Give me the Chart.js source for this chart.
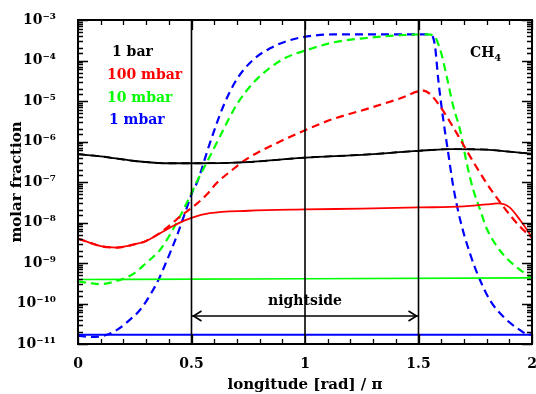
<!DOCTYPE html>
<html>
<head>
<meta charset="utf-8">
<script src="https://cdn.jsdelivr.net/npm/chart.js@4.4.1/dist/chart.umd.min.js"></script>
<style>
  html, body { margin: 0; padding: 0; background: #ffffff; }
  #wrap { width: 536px; height: 394px; }
</style>
</head>
<body>
<div id="wrap"><canvas id="c" width="536" height="394"></canvas></div>
<script>
// ---- data ----
const seriesNames = ['1 bar', '100 mbar', '10 mbar', '1 mbar'];
const speciesLabel = 'CH';
const speciesIndex = '4';
const regionLabel = 'nightside';

const xTickLabels = ['0', '0.5', '1', '1.5', '2'];

const blackX = [0, 0.1, 0.25, 0.4, 0.5, 0.75, 1.0, 1.25, 1.5, 1.65, 1.8, 1.9, 2.0];
const blackY = [4.9e-7, 4.3e-7, 3.3e-7, 2.9e-7, 2.9e-7, 3.1e-7, 4.0e-7, 4.7e-7, 5.9e-7, 6.5e-7, 6.3e-7, 5.6e-7, 5.0e-7];

const redSolidX = [0, 0.05, 0.1, 0.17, 0.25, 0.3, 0.375, 0.435, 0.5, 0.58, 0.75, 1.0, 1.25, 1.5, 1.7, 1.8, 1.85, 1.9, 1.95, 2.0];
const redSolidY = [4.0e-9, 3.2e-9, 2.6e-9, 2.4e-9, 2.9e-9, 3.5e-9, 6.0e-9, 9.1e-9, 1.3e-8, 1.7e-8, 1.95e-8, 2.1e-8, 2.2e-8, 2.35e-8, 2.5e-8, 2.8e-8, 2.95e-8, 2.4e-8, 1.1e-8, 4.3e-9];

const redDashX = [0, 0.05, 0.1, 0.17, 0.25, 0.3, 0.375, 0.435, 0.46, 0.52, 0.567, 0.61, 0.68, 0.743, 0.875, 1.0, 1.124, 1.27, 1.418, 1.52, 1.55, 1.595, 1.652, 1.727, 1.8, 1.873, 1.947, 2.0];
const redDashY = [4.0e-9, 3.2e-9, 2.6e-9, 2.4e-9, 2.9e-9, 3.5e-9, 6.3e-9, 1.2e-8, 1.55e-8, 2.8e-8, 4.9e-8, 9.3e-8, 2.0e-7, 3.7e-7, 9.1e-7, 1.9e-6, 3.6e-6, 6.3e-6, 1.15e-5, 1.8e-5, 1.5e-5, 7.4e-6, 2.3e-6, 4.3e-7, 9.3e-8, 2.5e-8, 7.9e-9, 4.2e-9];

const greenSolidX = [0, 1, 2];
const greenSolidY = [3.9e-10, 4.1e-10, 4.3e-10];

const greenDashX = [0, 0.05, 0.097, 0.17, 0.244, 0.3, 0.361, 0.405, 0.449, 0.493, 0.523, 0.581, 0.64, 0.699, 0.772, 0.846, 0.919, 1.007, 1.124, 1.27, 1.418, 1.536, 1.565, 1.595, 1.624, 1.653, 1.683, 1.712, 1.741, 1.771, 1.8, 1.845, 1.889, 1.947, 1.99, 2.0];
const greenDashY = [3.5e-10, 3.2e-10, 3.0e-10, 3.6e-10, 5.4e-10, 1.0e-9, 2.1e-9, 5.0e-9, 1.4e-8, 4.4e-8, 1.0e-7, 4.3e-7, 1.95e-6, 8.1e-6, 2.8e-5, 6.6e-5, 1.2e-4, 1.8e-4, 2.8e-4, 3.6e-4, 4.2e-4, 4.4e-4, 4.2e-4, 1.9e-4, 4.1e-5, 7.4e-6, 1.95e-6, 3.0e-7, 6.5e-8, 2.1e-8, 7.2e-9, 2.6e-9, 1.3e-9, 6.8e-10, 4.7e-10, 4.6e-10];

const blueSolidX = [0, 1, 2];
const blueSolidY = [1.7e-11, 1.7e-11, 1.7e-11];

const blueDashX = [0, 0.053, 0.112, 0.17, 0.229, 0.273, 0.317, 0.354, 0.39, 0.435, 0.471, 0.508, 0.523, 0.581, 0.64, 0.699, 0.772, 0.846, 0.919, 0.993, 1.124, 1.536, 1.558, 1.573, 1.587, 1.609, 1.631, 1.653, 1.683, 1.727, 1.771, 1.815, 1.874, 1.933, 1.99, 2.0];
const blueDashY = [1.6e-11, 1.5e-11, 1.6e-11, 2.2e-11, 4.0e-11, 6.9e-11, 1.6e-10, 3.8e-10, 1.1e-9, 4.6e-9, 1.7e-8, 6.5e-8, 9.3e-8, 9.1e-7, 7.4e-6, 3.4e-5, 1.05e-4, 2.0e-4, 3.0e-4, 3.8e-4, 4.4e-4, 4.4e-4, 4.2e-4, 2.2e-4, 3.4e-5, 3.5e-6, 5.2e-7, 7.8e-8, 1.2e-8, 1.7e-9, 3.8e-10, 1.2e-10, 4.7e-11, 2.5e-11, 1.7e-11, 1.7e-11];

const dividerX = [0.5, 1.0, 1.5];
const yRange = [1e-11, 1e-3];
const arrowX = [0.5, 1.5];
const arrowY = 4.9e-11;

// ---- helpers ----
const FONT = '"DejaVu Serif", "Liberation Serif", serif';
const RED = '#ff0000', GREEN = '#00ff00', BLUE = '#0000ff', BLACK = '#000000';

function pts(xs, ys) { return xs.map((x, i) => ({ x: x, y: ys[i] })); }

function line(data, color, width, dashed) {
  return {
    data: data, borderColor: color, borderWidth: width,
    borderDash: dashed ? [8, 5] : [], pointRadius: 0, fill: false,
    cubicInterpolationMode: 'monotone', tension: 0
  };
}

const datasets = [];
dividerX.forEach(x => {
  datasets.push({ data: [{ x: x, y: yRange[0] }, { x: x, y: yRange[1] }], borderColor: BLACK, borderWidth: 1.6, pointRadius: 0, tension: 0 });
});
datasets.push({ data: [{ x: arrowX[0], y: arrowY }, { x: arrowX[1], y: arrowY }], borderColor: BLACK, borderWidth: 1.6, pointRadius: 0, tension: 0 });
datasets.push(line(pts(greenSolidX, greenSolidY), GREEN, 1.6, false));
datasets.push(line(pts(blueSolidX, blueSolidY), BLUE, 2, false));
datasets.push(line(pts(redSolidX, redSolidY), RED, 1.8, false));
datasets.push(line(pts(blackX, blackY), BLACK, 1.8, false));
datasets.push(line(pts(blackX, blackY), BLACK, 1.8, true));
datasets.push(line(pts(redDashX, redDashY), RED, 2.2, true));
datasets.push(line(pts(greenDashX, greenDashY), GREEN, 2.2, true));
datasets.push(line(pts(blueDashX, blueDashY), BLUE, 2.2, true));

function isPow10(v) { const l = Math.log10(v); return Math.abs(l - Math.round(l)) < 1e-6; }
const SUP = { '-': '\u207B', '0': '\u2070', '1': '\u00B9', '2': '\u00B2', '3': '\u00B3', '4': '\u2074', '5': '\u2075', '6': '\u2076', '7': '\u2077', '8': '\u2078', '9': '\u2079' };
function sup(s) { return String(s).split('').map(c => SUP[c] || c).join(''); }

const decor = {
  id: 'decor',
  afterDatasetsDraw(chart) {
    const ctx = chart.ctx, a = chart.chartArea;
    const xs = chart.scales.x, ys = chart.scales.y;
    ctx.save();
    // frame
    ctx.strokeStyle = BLACK; ctx.lineWidth = 2;
    ctx.strokeRect(a.left, a.top, a.right - a.left, a.bottom - a.top);
    // inward ticks
    ctx.lineWidth = 1.3;
    ctx.beginPath();
    xs.ticks.forEach(t => {
      const p = Math.round(xs.getPixelForValue(t.value)) + 0.5;
      const major = Math.abs(t.value * 2 - Math.round(t.value * 2)) < 1e-6;
      const len = major ? 10 : 5;
      ctx.moveTo(p, a.bottom); ctx.lineTo(p, a.bottom - len);
      ctx.moveTo(p, a.top); ctx.lineTo(p, a.top + len);
    });
    ys.ticks.forEach(t => {
      const p = Math.round(ys.getPixelForValue(t.value)) + 0.5;
      const len = isPow10(t.value) ? 10 : 5;
      ctx.moveTo(a.left, p); ctx.lineTo(a.left + len, p);
      ctx.moveTo(a.right, p); ctx.lineTo(a.right - len, p);
    });
    ctx.stroke();
    // arrowheads
    const ay = ys.getPixelForValue(arrowY);
    const ax0 = xs.getPixelForValue(arrowX[0]), ax1 = xs.getPixelForValue(arrowX[1]);
    ctx.lineWidth = 1.6;
    ctx.beginPath();
    ctx.moveTo(ax0 + 10, ay - 5); ctx.lineTo(ax0 + 2, ay); ctx.lineTo(ax0 + 10, ay + 5);
    ctx.moveTo(ax1 - 10, ay - 5); ctx.lineTo(ax1 - 2, ay); ctx.lineTo(ax1 - 10, ay + 5);
    ctx.stroke();
    // region label
    ctx.fillStyle = BLACK;
    ctx.font = 'bold 14px ' + FONT;
    ctx.textAlign = 'center'; ctx.textBaseline = 'middle';
    ctx.fillText(regionLabel, xs.getPixelForValue((arrowX[0] + arrowX[1]) / 2), ay - 15);
    // legend
    const colors = [BLACK, RED, GREEN, BLUE];
    const lx = [112, 107, 107, 109], ly = [52, 75, 98, 120];
    ctx.textAlign = 'left';
    seriesNames.forEach((n, i) => { ctx.fillStyle = colors[i]; ctx.fillText(n, lx[i], ly[i]); });
    // species label
    ctx.fillStyle = BLACK;
    ctx.font = 'bold 14px ' + FONT;
    ctx.fillText(speciesLabel, 470, 53);
    const w = ctx.measureText(speciesLabel).width;
    ctx.font = 'bold 10px ' + FONT;
    ctx.fillText(speciesIndex, 470 + w, 58);
    ctx.restore();
  }
};

new Chart(document.getElementById('c'), {
  type: 'line',
  data: { datasets: datasets },
  plugins: [decor],
  options: {
    responsive: false, animation: false, devicePixelRatio: 1,
    layout: { padding: { top: 20, right: 4, left: 0, bottom: 0 } },
    plugins: { legend: { display: false }, tooltip: { enabled: false } },
    scales: {
      x: {
        type: 'linear', min: 0, max: 2, position: 'bottom',
        grid: { display: false }, border: { display: false },
        ticks: {
          stepSize: 0.1, autoSkip: false, maxRotation: 0, color: BLACK, padding: 4,
          font: { family: FONT, size: 14, weight: 'bold' },
          callback: v => {
            const k = Math.round(v * 2);
            return Math.abs(v * 2 - k) < 1e-6 ? xTickLabels[k] : '';
          }
        },
        title: { display: true, text: 'longitude [rad] / \u03C0', color: BLACK, font: { family: FONT, size: 15, weight: 'bold' }, padding: { top: 0, bottom: 0 } },
        afterFit: s => { s.height = 50; s.paddingLeft = 0; s.paddingRight = 0; }
      },
      y: {
        type: 'logarithmic', min: yRange[0], max: yRange[1], position: 'left',
        grid: { display: false }, border: { display: false },
        ticks: {
          autoSkip: false, color: BLACK, padding: 14,
          font: { family: FONT, size: 14, weight: 'bold' },
          callback: v => isPow10(v) ? '10' + sup(Math.round(Math.log10(v))) : ''
        },
        title: { display: true, text: 'molar fraction', color: BLACK, font: { family: FONT, size: 15, weight: 'bold' }, padding: { top: 8, bottom: 0 } },
        afterFit: s => { s.width = 78; s.paddingTop = 0; s.paddingBottom = 0; }
      }
    }
  }
});
</script>
</body>
</html>
